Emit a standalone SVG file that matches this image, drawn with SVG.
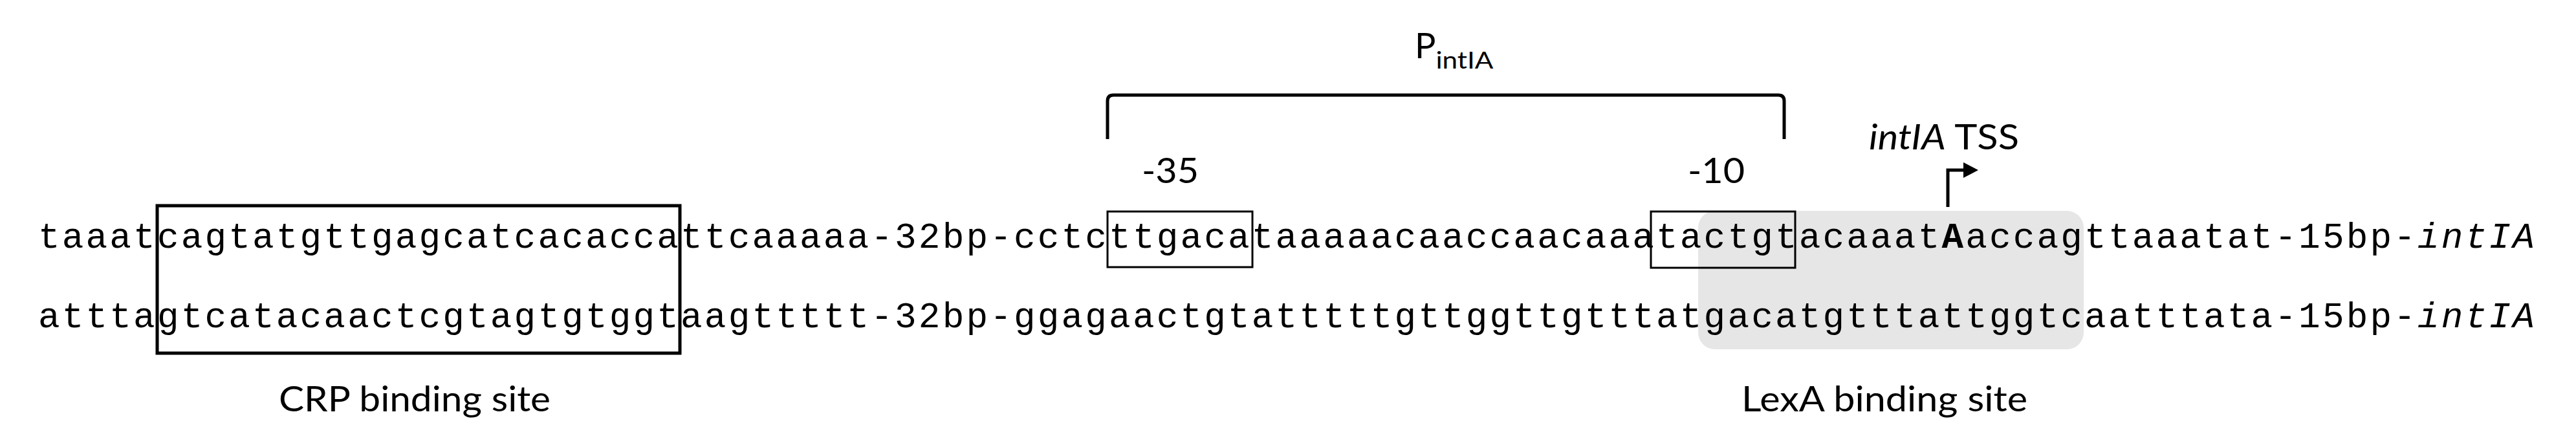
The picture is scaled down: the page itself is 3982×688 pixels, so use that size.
<svg xmlns="http://www.w3.org/2000/svg" width="3982" height="688" viewBox="0 0 3982 688">
<defs>
<style>
.seq{font-family:"Liberation Mono","Courier New",monospace;font-size:56px;fill:#000}
.lbl{font-family:Lato,"Open Sans","Liberation Sans",sans-serif;font-size:54px;fill:#000}
.box{fill:none;stroke:#000}
.thick{stroke-width:5}
.thin{stroke-width:3}
.it{font-style:italic}
.b{font-weight:bold}
</style>
</defs>
<rect width="3982" height="688" fill="#fff"/>
<g id="lexa-site">
<rect x="2625" y="326" width="596" height="214" rx="26" ry="26" fill="#e6e6e6"/>
<text class="lbl" x="2692" y="636" textLength="442" lengthAdjust="spacingAndGlyphs">LexA binding site</text>
</g>
<g id="sequences">
<text class="seq" x="59" y="383" textLength="3858.75" lengthAdjust="spacing">taaatcagtatgttgagcatcacaccattcaaaaa-32bp-cctcttgacataaaaacaaccaacaaatactgtacaaat<tspan class="b">A</tspan>accagttaaatat-15bp-<tspan class="it">intIA</tspan></text>
<text class="seq" x="59" y="506" textLength="3858.75" lengthAdjust="spacing">atttagtcatacaactcgtagtgtggtaagttttt-32bp-ggagaactgtatttttgttggttgtttatgacatgtttattggtcaatttata-15bp-<tspan class="it">intIA</tspan></text>
</g>
<g id="crp-site">
<rect class="box thick" x="243" y="318" width="808" height="228"/>
<text class="lbl" x="431" y="636" textLength="420" lengthAdjust="spacingAndGlyphs">CRP binding site</text>
</g>
<g id="minus35">
<rect class="box thin" x="1712" y="327" width="224" height="86"/>
<text class="lbl" x="1765" y="283" textLength="88" lengthAdjust="spacingAndGlyphs">-35</text>
</g>
<g id="minus10">
<rect class="box thin" x="2552" y="327" width="223" height="87"/>
<text class="lbl" x="2609" y="283" textLength="88" lengthAdjust="spacingAndGlyphs">-10</text>
</g>
<g id="promoter">
<path class="box thick" d="M1712,215 V156 Q1712,147 1721,147 H2749 Q2758,147 2758,156 V215"/>
<text class="lbl" x="2187" y="90" font-size="61">P<tspan font-size="37" dy="16" textLength="89" lengthAdjust="spacingAndGlyphs">intIA</tspan></text>
</g>
<g id="tss">
<text class="lbl" x="2889" y="231" textLength="232" lengthAdjust="spacingAndGlyphs"><tspan class="it">intIA</tspan> TSS</text>
</g>
<g id="connectors">
<path d="M3011,320 V263 H3038" fill="none" stroke="#000" stroke-width="5"/>
<polygon points="3035,251 3058,263 3035,275" fill="#000"/>
</g>
</svg>
